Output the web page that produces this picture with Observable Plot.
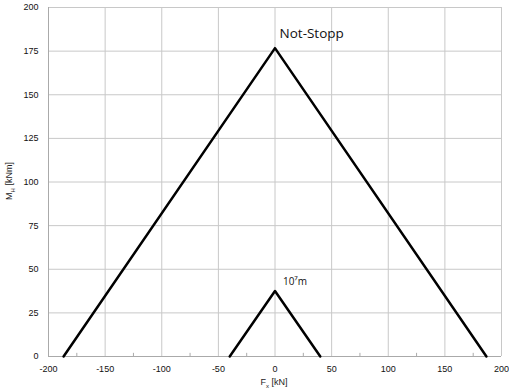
<!DOCTYPE html>
<html><head><meta charset="utf-8">
<script src="https://cdn.jsdelivr.net/npm/d3@7"></script>
<script src="https://cdn.jsdelivr.net/npm/@observablehq/plot@0.6"></script>
<style>
html,body{margin:0;padding:0;background:#fff;}
#chart{position:relative;width:509px;height:390px;overflow:hidden;}
</style>
</head><body><div id="chart"></div>
<script>
const notStoppF = [-186.7, 0, 186.7];
const notStoppM = [0, 176.7, 0];
const smallF = [-40, 0, 40];
const smallM = [0, 37.5, 0];
const xTicks = [-200, -150, -100, -50, 0, 50, 100, 150, 200];
const xMinor = [-175, -125, -75, -25, 25, 75, 125, 175];
const yTicks = [0, 25, 50, 75, 100, 125, 150, 175, 200];
const labels = [
  {text: "Not-Stopp", f: 4, m: 185, size: 13.5},
  {text: "10⁷m", f: 7, m: 43, size: 10}
];

const big = notStoppF.map((f, i) => ({f, m: notStoppM[i]}));
const small = smallF.map((f, i) => ({f, m: smallM[i]}));

const font = "'Liberation Sans', Arial, sans-serif";
const chart = Plot.plot({
  width: 509, height: 390,
  marginLeft: 48, marginRight: 8, marginTop: 7, marginBottom: 34,
  style: {fontFamily: font, fontSize: "9px", color: "#111", background: "#fff"},
  x: {domain: [-200, 200], ticks: xTicks, label: null},
  y: {domain: [0, 200], ticks: yTicks, label: null},
  marks: [
    Plot.gridX(xTicks, {stroke: "#c8c8c8", strokeOpacity: 1, strokeWidth: 1}),
    Plot.gridY(yTicks, {stroke: "#c8c8c8", strokeOpacity: 1, strokeWidth: 1}),
    Plot.ruleX(xMinor, {y1: 0, y2: 1.8, stroke: "#aaa"}),
    Plot.axisX({ticks: xTicks, tickSize: 0, tickPadding: 9, fontSize: 9, tickFormat: d => String(d)}),
    Plot.axisY({ticks: yTicks, tickSize: 0, tickPadding: 10, fontSize: 9, tickFormat: d => String(d)}),
    Plot.ruleY([0], {stroke: "#aaa", strokeWidth: 1}),
    Plot.ruleX([-200], {stroke: "#aaa", strokeWidth: 1}),
    Plot.line(big, {x: "f", y: "m", stroke: "#000", strokeWidth: 2.5}),
    Plot.line(small, {x: "f", y: "m", stroke: "#000", strokeWidth: 2.5}),
    Plot.text(labels, {x: "f", y: "m", text: "text", fontSize: d => d.size, textAnchor: "start", fill: "#111", fontFamily: "'Open Sans', 'Liberation Sans', sans-serif"})
  ]
});
const div = document.getElementById("chart");
div.appendChild(chart);
// axis titles (with subscripts)
const ylab = document.createElement("div");
ylab.innerHTML = "M<sub style='font-size:6px'>H</sub> [kNm]";
ylab.style.cssText = "position:absolute;left:10px;top:181px;transform:translate(-50%,-50%) rotate(-90deg);font:9px " + font + ";color:#222;white-space:nowrap;";
div.appendChild(ylab);
const xlab = document.createElement("div");
xlab.innerHTML = "F<sub style='font-size:6px'>x</sub> [kN]";
xlab.style.cssText = "position:absolute;left:274px;top:377px;transform:translateX(-50%);font:9px " + font + ";color:#222;white-space:nowrap;line-height:11px;";
div.appendChild(xlab);
</script>
</body></html>
